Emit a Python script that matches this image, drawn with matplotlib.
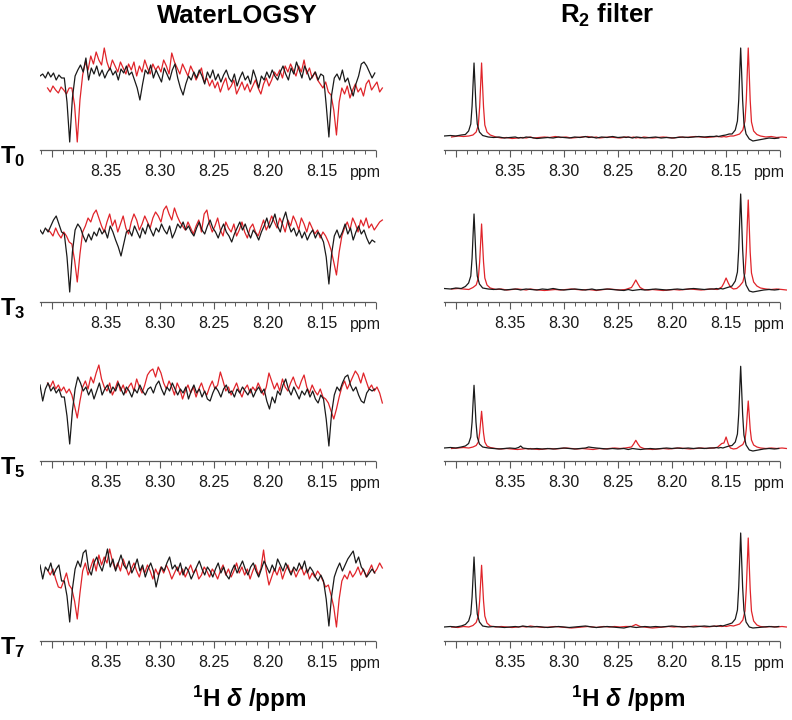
import matplotlib.pyplot as plt
import numpy as np

plt.rcParams['font.family'] = ['Liberation Sans', 'DejaVu Sans']
plt.rcParams['mathtext.fontset'] = 'custom'
plt.rcParams['mathtext.rm'] = 'Liberation Sans'
plt.rcParams['mathtext.it'] = 'Liberation Sans:italic:bold'
plt.rcParams['mathtext.bf'] = 'Liberation Sans:bold'

# panel text
row_labels = [r'$\mathbf{T_0}$', r'$\mathbf{T_3}$', r'$\mathbf{T_5}$', r'$\mathbf{T_7}$']
col_titles = ['WaterLOGSY', r'$\mathbf{R_2}$ filter']
x_label = r'$^{\mathbf{1}}$H $\delta$ /ppm'
tick_ppm = [8.40, 8.35, 8.30, 8.25, 8.20, 8.15, 8.10]
tick_text = ['', '8.35', '8.30', '8.25', '8.20', '8.15', '']
red_shift = 0.007   # red spectra sit ~0.007 ppm upfield of the black ones

# WaterLOGSY traces, one value every 0.0025 ppm from 8.411 down to 8.101
wl_t0_black = [74, 76, 72, 78, 73, 77, 70, 75, 72, 72, 48, 8, 52, 74,
               80, 85, 78, 92,
               70, 82, 76, 84, 74, 80, 72, 78,
               82, 75, 79, 70, 81, 77, 84, 75,
               78, 70, 62, 50, 66, 80, 76,
               85, 72, 80, 74, 68, 82, 76, 70, 80, 86,
               72, 62, 55, 66, 74, 70, 78, 72,
               80, 74, 66, 78, 72, 80, 70, 76, 68, 75, 80, 72,
               68, 76, 64, 72, 78, 70, 74, 66, 80, 72, 62, 74, 70, 78, 72,
               80, 74, 70, 78, 84, 76, 70, 82, 76, 88, 80, 72, 84, 78, 70,
               74, 78, 70, 76, 74, 45, 13, 55, 72,
               76, 70, 80, 68, 72, 62, 54, 66, 74, 86, 88, 84, 78, 72, 77]
wl_t0_red = [62, 58, 64, 60, 57, 63, 60, 56, 62,
             62, 45, 8, 50, 75,
             88, 80, 94, 86, 98, 90, 85,
             102, 88, 80, 90, 84, 78, 88, 82, 76, 86,
             80, 88, 74, 84, 78, 90, 82, 76, 86, 80,
             84, 78, 90, 84, 76, 97, 88, 82, 76, 86,
             80, 74, 84, 78, 70, 76, 82, 68, 72, 64,
             70, 62, 68, 58, 66, 72, 60, 64, 70, 56, 62, 68, 60, 66, 58,
             64, 70, 62, 56, 66, 72, 64, 70, 78, 74, 80, 72, 84,
             78, 86, 80, 74, 84, 78, 90, 76, 82, 72, 78, 70,
             66, 62, 68, 58, 55, 40, 15, 48, 62,
             56, 64, 52, 60, 66, 58, 62, 54, 66, 70, 60, 64, 68, 58, 62]
wl_t3_black = [72, 68, 74, 70, 76, 82, 86, 78, 70,
               68, 45, 10, 50, 72,
               78, 74, 66, 60, 68, 62, 70,
               66, 74, 68, 72, 64, 76, 70, 62, 55,
               46, 58, 70,
               72, 66, 76, 70, 64, 74, 68, 78, 72, 66, 74, 70, 78,
               72, 68, 76, 64, 70, 78, 74, 80, 72, 76, 70, 66, 74, 80, 72,
               68, 76, 82, 74, 70, 64, 72, 78, 70, 66, 60, 68, 74, 80, 72,
               78, 70, 64, 72, 68, 62, 70, 76, 84, 74, 80, 88, 76, 70, 82,
               90, 78, 70, 74, 66, 72, 64, 70, 62, 68, 72, 64, 70, 66,
               60, 45, 18, 48, 66,
               72, 64, 70, 78, 68, 74, 62, 70, 76, 68, 72, 64, 58, 62, 60]
wl_t3_red = [72, 70, 66, 74, 68, 64, 70, 66, 60,
             58, 42, 20, 48, 70,
             76, 84, 80, 88, 92, 84, 76,
             70, 80, 88, 76, 82, 70, 78, 86, 74, 68,
             80, 88, 82, 72, 78, 86, 80, 74, 84, 90,
             86, 80, 92, 96, 88, 82, 94, 86, 80, 76,
             72, 80, 74, 68, 76, 82, 70, 88, 92, 78,
             70, 76, 84, 72, 66, 80, 74, 70, 78, 66, 72, 80, 70, 64, 74,
             78, 70, 66, 74, 82, 72, 78, 86, 80, 74, 84, 78, 70,
             82, 76, 86, 80, 72, 84, 78, 70, 80, 74, 68, 72,
             64, 70, 66, 60, 52, 40, 27, 50, 66,
             74, 80, 72, 84, 78, 70, 82, 76, 84, 74, 78, 72, 76, 80, 82]
wl_t5_black = [76, 60, 72, 78, 70, 74, 68, 72, 64,
               64, 45, 17, 50, 72,
               84, 78, 70, 74, 66, 72, 62,
               70, 78, 66, 72, 76, 68, 74, 70, 78, 72,
               66, 74, 70, 64, 72, 68, 76, 70, 66, 72,
               74, 68, 76, 80, 72, 66, 74, 70, 78, 72,
               66, 72, 68, 74, 62, 70, 76, 68, 72, 64,
               70, 62, 60, 68, 74, 70, 64, 72, 76, 68, 70, 64, 72, 68, 74,
               70, 66, 72, 64, 70, 74, 68, 72, 60, 52, 64, 58, 70, 66, 76,
               82, 72, 66, 74, 68, 62, 70, 66, 72, 64, 70, 62, 58, 66,
               62, 42, 15, 48, 66,
               74, 70, 78, 84, 86, 76, 70, 74, 66, 60, 58, 68, 72, 70, 72]
wl_t5_red = [78, 74, 80, 72, 76, 70, 74, 68, 72,
             66, 55, 43, 60, 74,
             80, 72, 84, 78, 88, 96, 82,
             74, 70, 78, 66, 72, 80, 70, 76, 68, 74,
             78, 70, 82, 74, 68, 76, 86, 90, 92, 84,
             94, 88, 78, 72, 80, 74, 66, 78, 72, 62,
             70, 76, 68, 74, 64, 72, 78, 70, 66, 74,
             80, 72, 76, 89, 80, 70, 74, 66, 72, 78, 70, 64, 72, 76, 68,
             74, 70, 78, 72, 66, 74, 88, 80, 72, 78, 70, 82, 74,
             70, 78, 84, 76, 72, 80, 86, 74, 68, 76, 70, 66,
             72, 64, 62, 58, 50, 42, 52, 64, 74,
             80, 72, 78, 84, 90, 86, 78, 88, 80, 72, 76, 70, 74, 68, 58]
wl_t7_black = [76, 62, 74, 70, 78, 66, 72, 76, 60,
               60, 45, 19, 52, 72,
               80, 74, 88, 91, 72, 66, 78,
               84, 76, 70, 80, 92, 74, 82, 70, 78, 86,
               76, 72, 80, 68, 74, 82, 70, 76, 64, 72,
               78, 70, 54, 66, 74, 70, 78, 84, 72, 76,
               70, 78, 66, 74, 70, 62, 68, 74, 80, 72,
               66, 74, 70, 64, 72, 78, 68, 74, 66, 62, 70, 76, 68, 74, 80,
               72, 66, 74, 78, 70, 64, 72, 80, 74, 68, 76, 70, 82, 76, 70,
               78, 72, 66, 74, 70, 78, 72, 80, 68, 74, 70, 64, 60, 66,
               60, 42, 15, 45, 64,
               72, 78, 70, 76, 82, 86, 90, 78, 84, 74, 70, 64, 68, 72, 68]
wl_t7_red = [71, 66, 72, 62, 54, 53, 60, 68, 56,
             52, 40, 22, 48, 70,
             78, 66, 74, 82, 70, 86, 76,
             84, 78, 92, 80, 72, 78, 70, 82, 74, 66,
             72, 78, 70, 64, 74, 68, 76, 70, 62, 72,
             66, 74, 68, 76, 70, 62, 68, 74, 66, 72,
             64, 70, 76, 68, 72, 62, 66, 74, 70, 64,
             72, 68, 62, 70, 76, 66, 72, 64, 70, 78, 68, 74, 66, 72, 62,
             70, 76, 66, 72, 91, 70, 56, 64, 72, 66, 74, 62, 70,
             76, 68, 72, 64, 70, 74, 66, 72, 62, 68, 64, 70,
             66, 60, 54, 56, 46, 34, 14, 42, 60,
             66, 62, 70, 64, 68, 74, 66, 72, 64, 70, 76, 68, 72, 78, 73]

# R2 filter traces, sampled densely around the peaks (ppm of the black spectra)
r2_ppm = [8.411, 8.405, 8.400, 8.395,
          8.3912, 8.3882, 8.3862, 8.3850, 8.3840, 8.3832, 8.3824, 8.3814, 8.3802, 8.3782, 8.3752,
          8.370, 8.365, 8.360, 8.355, 8.350, 8.345, 8.342, 8.340, 8.338, 8.335,
          8.330, 8.325, 8.320, 8.315, 8.310, 8.305, 8.300, 8.295, 8.290, 8.285,
          8.280, 8.277, 8.274, 8.270, 8.265, 8.260, 8.255, 8.250,
          8.2444, 8.2424, 8.2404, 8.2384, 8.2364,
          8.233, 8.229, 8.225, 8.220, 8.215, 8.210, 8.205, 8.200, 8.195, 8.190,
          8.185, 8.180, 8.175, 8.170, 8.165,
          8.1608, 8.1588, 8.1568, 8.1548, 8.1528,
          8.150, 8.147,
          8.1443, 8.1413, 8.1393, 8.1381, 8.1371, 8.1363, 8.1355, 8.1345, 8.1333, 8.1313, 8.1283,
          8.125, 8.120, 8.115, 8.110, 8.105, 8.101]
r2_t0_black = [14, 14.5, 14, 15,
               15.5, 19, 26, 44, 68, 87, 68, 44, 26, 18, 14.5,
               13, 12.5, 13, 12, 12.5, 13, 12, 12.5, 12, 13,
               12.5, 11.5, 12, 12.5, 12, 13, 12.5, 12, 13, 12.5,
               13.5, 12.5, 13, 12, 13, 12.5, 13.5, 12.5,
               13, 12.5, 13, 12.5, 12,
               13, 12.5, 12, 12.5, 13, 12, 12.5, 12, 12.5, 13,
               12.5, 13, 13.5, 13, 13.5,
               13.5, 14, 13.5, 14, 14.5,
               15, 16,
               16, 20, 29, 50, 80, 102, 80, 50, 27, 16, 11,
               9, 10, 11, 12, 11.5, 12]
r2_t0_red = [13, 14, 13.5, 14,
             15, 18, 25, 43, 67, 87, 67, 43, 25, 18, 15,
             13, 12, 12.5, 11.5, 12, 12.5, 12, 12.5, 13, 12,
             12.5, 13, 12.5, 13.5, 12.5, 13, 12, 12.5, 13, 13.5,
             12.5, 13, 12, 12.5, 13, 12.5, 12, 13,
             12.5, 13, 12, 12.5, 12,
             13, 12.5, 12, 12.5, 13, 12.5, 12, 13, 12.5, 13,
             13.5, 13, 12.5, 13, 13.5,
             13, 13.5, 13, 13.5, 14,
             14, 15,
             16, 20, 29, 50, 80, 102, 80, 50, 28, 19, 15.5,
             14, 13, 13.5, 12.5, 13, 12.5]
r2_t3_black = [13.5, 13, 14, 13.5,
               15.5, 19, 26, 44, 69, 88, 69, 44, 26, 18, 14,
               13, 12.5, 13, 12, 12.5, 13, 12.5, 12, 12.5, 13,
               12.5, 12, 13, 12.5, 13.5, 12.5, 12, 12.5, 13, 12.5,
               12, 12.5, 13, 12, 12.5, 13, 12.5, 12,
               11.5, 12, 12.5, 12, 11.5,
               12, 12.5, 12, 12.5, 13, 12.5, 12, 12.5, 13, 12.5,
               13, 13.5, 13, 12.5, 13,
               13, 13.5, 13, 13.5, 13,
               14, 15,
               16, 21, 30, 53, 84, 108, 84, 53, 29, 17, 11,
               10, 11, 12, 12.5, 12, 12.5]
r2_t3_red = [13, 13.5, 13, 12.5,
             14.5, 17, 24, 40, 61, 78, 61, 40, 24, 17, 14,
             12.5, 13, 12, 12.5, 13, 12.5, 12, 12.5, 13, 12.5,
             12, 11.5, 12, 12.5, 12, 12.5, 13, 12.5, 12, 12.5,
             12, 11.5, 12, 12.5, 13, 12.5, 12, 12.5,
             14.5, 18, 22, 18, 14.5,
             12.5, 12, 12.5, 12, 11.5, 12, 12.5, 12, 12.5, 13,
             12.5, 12, 12.5, 13, 12.5,
             15, 19, 24, 19, 15,
             13, 13.5,
             16, 20, 29, 50, 80, 102, 80, 50, 29, 20, 16,
             14, 13, 12.5, 13, 12.5, 12]
r2_t5_black = [13, 13.5, 13, 14,
               15, 17.5, 24, 39, 60, 75.7, 60, 39, 24, 17, 14,
               13, 12.5, 12, 12.5, 13, 12.5, 13.5, 15, 13, 12.5,
               12, 12.5, 12, 12.5, 12, 12.5, 13, 12.5, 12, 12.5,
               13, 14, 13.5, 13, 12.5, 12, 12.5, 12,
               12.5, 12, 11.5, 12, 12.5,
               12, 11.5, 12, 12.5, 12, 12.5, 13, 12.5, 13, 12.5,
               13, 12.5, 13, 12.5, 13,
               13, 13.5, 13, 13.5, 13,
               14, 15,
               15.5, 19, 27, 47, 74, 94.7, 74, 47, 26, 16, 11,
               10, 11, 12, 12.5, 12, 12.5]
r2_t5_red = [12.5, 13, 13.5, 13,
             14, 15.5, 19, 28, 40, 49.7, 40, 28, 19, 15, 13.5,
             12.5, 12, 12.5, 12, 11.5, 12, 12.5, 12, 12.5, 12,
             11.5, 12, 12.5, 12, 12.5, 13, 12.5, 12, 12.5, 12,
             11.5, 12, 12.5, 12, 12.5, 13, 12.5, 13,
             14, 17, 20.7, 17, 14,
             12.5, 12, 11.5, 12, 12.5, 12, 12.5, 13, 12.5, 12,
             12.5, 13, 12.5, 13, 13.5,
             17.5, 18, 24, 17, 13,
             12, 12.5,
             14.5, 16.5, 21, 32, 48, 60, 48, 32, 21, 16, 14,
             13, 12.5, 13, 12.5, 13, 12.5]
r2_t7_black = [14, 14.5, 14, 15,
               16.5, 20, 27, 44, 66, 84, 66, 44, 27, 19, 15,
               14, 14.5, 14, 13.5, 14, 14.5, 14, 14.5, 15, 14.5,
               14, 14.5, 14, 13.5, 14, 14.5, 14, 13.5, 14, 14.5,
               15, 14.5, 14, 13.5, 14, 14.5, 14, 13.5,
               13, 13.5, 14, 14.5, 14,
               13.5, 14, 14.5, 14, 14.5, 14, 14.5, 15, 14.5, 14,
               14.5, 14, 14.5, 15, 14.5,
               15, 14.5, 15, 15.5, 15,
               16, 17,
               18, 22, 31, 54, 84, 108, 84, 54, 31, 19, 14,
               13, 13.5, 14, 14.5, 14, 14.5]
r2_t7_red = [14, 13.5, 14.5, 14,
             15.5, 18.5, 25, 40, 60, 75.7, 60, 40, 25, 18, 15,
             14, 14.5, 14, 13.5, 14, 14.5, 14, 14.5, 15, 14.5,
             14, 13.5, 14, 14.5, 14, 13.5, 13, 13.5, 14, 14.5,
             14, 13.5, 14, 14.5, 14, 14.5, 14, 14.5,
             14.5, 15.5, 16.5, 15.5, 14.5,
             14, 13.5, 13, 13.5, 14, 14.5, 14, 14.5, 14, 14.5,
             15, 14.5, 14, 14.5, 15,
             14.5, 15, 14.5, 15, 15.5,
             15, 16,
             17, 21, 30, 52, 80, 103, 80, 52, 30, 20, 16,
             14.5, 14, 14.5, 14, 14.5, 14]

wl_black = [wl_t0_black, wl_t3_black, wl_t5_black, wl_t7_black]
wl_red = [wl_t0_red, wl_t3_red, wl_t5_red, wl_t7_red]
r2_black = [r2_t0_black, r2_t3_black, r2_t5_black, r2_t7_black]
r2_red = [r2_t0_red, r2_t3_red, r2_t5_red, r2_t7_red]

W, H = 792, 720
fig = plt.figure(figsize=(W / 100, H / 100), dpi=100)

axis_rows = [150, 302, 461, 641]   # pixel row of each x axis line
col_left = [40, 444]
panel_w, panel_h = 346, 110
black = '#1a1a1a'
red = '#e0242a'
grey = '#5a5a5a'

wl_ppm = np.linspace(8.411, 8.101, len(wl_t0_black))


def make_panel(x0, y_axis):
    ax = fig.add_axes([x0 / W, (H - y_axis) / H, panel_w / W, panel_h / H])
    ax.patch.set_alpha(0)
    ax.set_xlim(8.411, 8.411 - panel_w / 1080)
    ax.set_ylim(0, panel_h)
    for s in ['top', 'left', 'right']:
        ax.spines[s].set_visible(False)
    ax.spines['bottom'].set_bounds(8.101, 8.411)
    ax.spines['bottom'].set_color(grey)
    ax.spines['bottom'].set_linewidth(0.9)
    ax.set_yticks([])
    ax.set_xticks(tick_ppm)
    ax.set_xticklabels(tick_text)
    ax.set_xticks(np.arange(8.41, 8.1, -0.01), minor=True)
    ax.tick_params(axis='x', which='major', length=5, width=0.8, color=grey,
                   pad=5, labelsize=11.5, labelcolor='#1a1a1a')
    ax.tick_params(axis='x', which='minor', length=3, width=0.7, color=grey)
    ax.text(8.110, -5.5 / 72 * 100 - 7, 'ppm', ha='center', va='top',
            fontsize=11.5, color='#1a1a1a', transform=ax.transData)
    return ax


for r, y_axis in enumerate(axis_rows):
    ax = make_panel(col_left[0], y_axis)
    ax.plot(wl_ppm, wl_black[r], color=black, lw=0.9, zorder=3)
    ax.plot(wl_ppm - red_shift, wl_red[r], color=red, lw=0.9, zorder=2, clip_on=False)

    ax = make_panel(col_left[1], y_axis)
    ax.plot(r2_ppm, r2_black[r], color=black, lw=0.9, zorder=3)
    ax.plot(np.array(r2_ppm) - red_shift, r2_red[r], color=red, lw=0.9, zorder=2, clip_on=False)

    fig.text(0, 1 - (y_axis + 13) / H, row_labels[r], fontsize=17,
             ha='left', va='baseline')

fig.text(237 / W, 1 - 23 / H, col_titles[0], fontsize=18.5, fontweight='bold',
         ha='center', va='baseline')
fig.text(607 / W, 1 - 23 / H, col_titles[1], fontsize=18.5, fontweight='bold',
         ha='center', va='baseline')
fig.text(249 / W, 1 - 707 / H, x_label, fontsize=17.5, fontweight='bold',
         ha='center', va='baseline')
fig.text(628 / W, 1 - 707 / H, x_label, fontsize=17.5, fontweight='bold',
         ha='center', va='baseline')

fig.savefig('out.png', dpi=100)
